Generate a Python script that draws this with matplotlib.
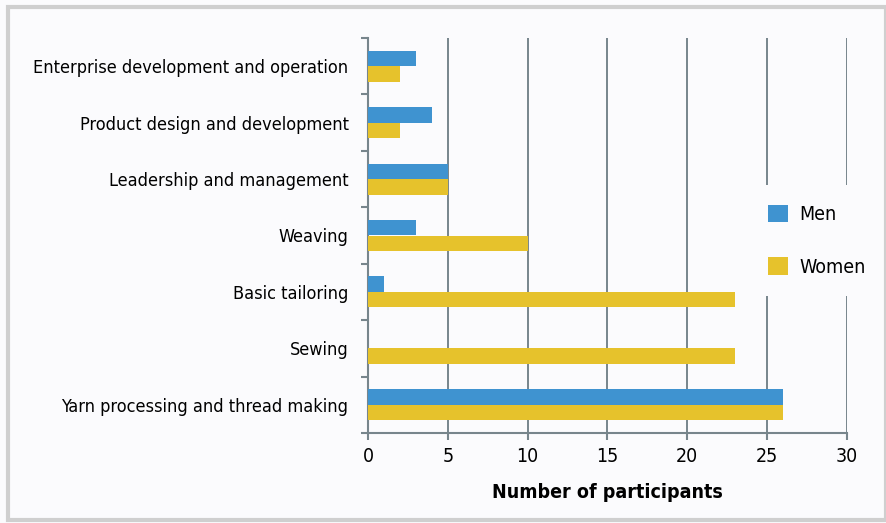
import numpy as np
import matplotlib
matplotlib.use("Agg")
import matplotlib.pyplot as plt
from matplotlib import font_manager as fm
from matplotlib.patches import Rectangle

# ----------------------------
# Data
# ----------------------------
categories = [
    "Enterprise development and operation",
    "Product design and development",
    "Leadership and management",
    "Weaving",
    "Basic tailoring",
    "Sewing",
    "Yarn processing and thread making",
]
men = [3, 4, 5, 3, 1, 0, 26]
women = [2, 2, 5, 10, 23, 23, 26]
x_ticks = [0, 5, 10, 15, 20, 25, 30]

# ----------------------------
# Style: pick a condensed font if one is around
# ----------------------------
names = {f.name for f in fm.fontManager.ttflist}
condensed = [f for f in fm.fontManager.ttflist
             if f.name == "DejaVu Sans" and "condensed" in str(f.stretch)]
if "Liberation Sans Narrow" in names:
    plt.rcParams["font.family"] = ["Liberation Sans Narrow", "DejaVu Sans"]
elif condensed:
    plt.rcParams["font.family"] = ["DejaVu Sans"]
    plt.rcParams["font.stretch"] = "condensed"
else:
    plt.rcParams["font.family"] = ["DejaVu Sans"]

MEN_COLOR = "#3f93d0"
WOMEN_COLOR = "#e6c22c"
GRID_COLOR = "#77858c"

fig = plt.figure(figsize=(8.87, 5.23), dpi=100, facecolor="#fbfbfd")
fig.patches.append(Rectangle((0.009, 0.006), 0.99, 0.98, transform=fig.transFigure,
                             fill=False, edgecolor="#cfcfcf", linewidth=3))

ax = fig.add_axes([368 / 887, 1 - 433 / 523, (847 - 368) / 887, (433 - 38) / 523])
ax.set_facecolor("#fbfbfd")

y = np.arange(len(categories))
h = 0.275
ax.barh(y - h / 2, men, height=h, color=MEN_COLOR, label="Men", zorder=3)
ax.barh(y + h / 2, women, height=h, color=WOMEN_COLOR, label="Women", zorder=3)

ax.set_ylim(len(categories) - 0.5, -0.5)
ax.set_xlim(0, 30)

ax.set_yticks(y)
ax.set_yticklabels(categories, fontsize=13)
ax.set_yticks(np.arange(len(categories) + 1) - 0.5, minor=True)
ax.tick_params(axis="y", which="major", length=0, pad=14)
ax.tick_params(axis="y", which="minor", length=5, color=GRID_COLOR, width=1.5)

ax.set_xticks(x_ticks)
ax.set_xticklabels([str(t) for t in x_ticks], fontsize=14)
ax.tick_params(axis="x", length=5, color=GRID_COLOR, width=1.5, pad=5)
ax.xaxis.grid(True, color=GRID_COLOR, linewidth=1.4, zorder=0)
ax.set_axisbelow(True)

for side in ["top", "right"]:
    ax.spines[side].set_visible(False)
for side in ["left", "bottom"]:
    ax.spines[side].set_color(GRID_COLOR)
    ax.spines[side].set_linewidth(1.5)

ax.set_xlabel("Number of participants", fontsize=14, fontweight="bold", labelpad=12)

leg = ax.legend(loc="center left", bbox_to_anchor=(0.775, 0.487), fontsize=14,
                frameon=True, facecolor="#fbfbfd", edgecolor="none", framealpha=1,
                handlelength=1.0, handleheight=1.0, labelspacing=1.7,
                handletextpad=0.6, borderpad=1.0)
leg.set_zorder(5)

plt.savefig("out.png", dpi=100, facecolor=fig.get_facecolor())
plt.close()
